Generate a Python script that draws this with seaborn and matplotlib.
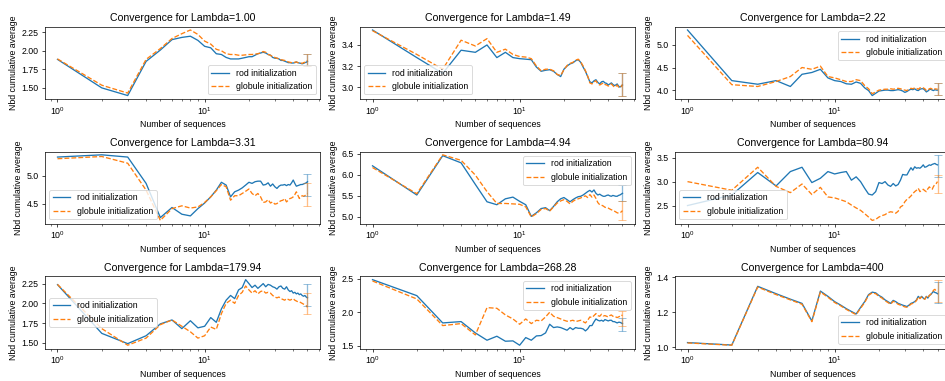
import numpy as np
import matplotlib
matplotlib.use("Agg")
import matplotlib.pyplot as plt
import seaborn as sns

plt.rcParams['font.family'] = ['Liberation Sans', 'DejaVu Sans']
plt.rcParams['mathtext.fontset'] = 'custom'
plt.rcParams['mathtext.rm'] = 'Liberation Sans'
plt.rcParams['mathtext.it'] = 'Liberation Sans:italic'

n_seq = list(range(1, 51))

lambdas = ["1.00", "1.49", "2.22", "3.31", "4.94", "80.94", "179.94", "268.28", "400"]

rod_1 = [1.884, 1.50, 1.397, 1.857, 2.01, 2.15, 2.18, 2.196, 2.14, 2.06, 2.04, 1.96, 1.95, 1.91, 1.89, 1.89, 1.89, 1.90, 1.91, 1.92,
         1.92, 1.94, 1.96, 1.97, 1.98, 1.97, 1.95, 1.94, 1.91, 1.90, 1.90, 1.89, 1.87, 1.87, 1.86, 1.85, 1.84, 1.84, 1.835, 1.835,
         1.84, 1.85, 1.84, 1.835, 1.83, 1.825, 1.83, 1.84, 1.845, 1.857]
glob_1 = [1.89, 1.536, 1.43, 1.884, 2.03, 2.165, 2.23, 2.28, 2.22, 2.13, 2.09, 2.02, 2.00, 1.96, 1.95, 1.95, 1.94, 1.94, 1.945, 1.95,
          1.95, 1.955, 1.96, 1.97, 1.99, 1.98, 1.95, 1.94, 1.92, 1.91, 1.90, 1.89, 1.88, 1.875, 1.87, 1.86, 1.85, 1.845, 1.84, 1.84,
          1.845, 1.85, 1.84, 1.835, 1.835, 1.83, 1.84, 1.845, 1.85, 1.87]

rod_2 = [3.542, 3.28, 3.13, 3.35, 3.33, 3.40, 3.28, 3.33, 3.28, 3.27, 3.265, 3.26, 3.19, 3.15, 3.16, 3.165, 3.15, 3.12, 3.10, 3.17,
         3.20, 3.22, 3.23, 3.25, 3.26, 3.235, 3.19, 3.15, 3.10, 3.05, 3.04, 3.06, 3.07, 3.045, 3.03, 3.05, 3.055, 3.04, 3.035, 3.02,
         3.03, 3.04, 3.025, 3.015, 3.02, 3.03, 3.01, 3.0, 3.01, 3.02]
glob_2 = [3.535, 3.31, 3.17, 3.445, 3.39, 3.46, 3.33, 3.36, 3.31, 3.29, 3.285, 3.27, 3.20, 3.155, 3.17, 3.17, 3.155, 3.12, 3.11, 3.165,
          3.205, 3.225, 3.235, 3.255, 3.265, 3.24, 3.20, 3.155, 3.105, 3.04, 3.03, 3.05, 3.06, 3.03, 3.02, 3.03, 3.04, 3.025, 3.02, 3.01,
          3.02, 3.03, 3.015, 3.0, 3.005, 3.02, 3.0, 2.995, 3.005, 3.025]

rod_3 = [5.33, 4.21, 4.13, 4.21, 4.08, 4.35, 4.39, 4.46, 4.27, 4.21, 4.19, 4.14, 4.13, 4.18, 4.15, 4.05, 3.99, 3.88, 3.93, 3.98,
         3.99, 4.0, 4.0, 3.99, 3.99, 4.0, 4.01, 4.0, 3.98, 3.95, 3.97, 4.0, 4.02, 4.01, 4.03, 4.0, 3.99, 4.02, 4.03, 4.03,
         4.0, 3.96, 3.98, 4.01, 4.02, 4.0, 3.99, 4.01, 4.0, 4.0]
glob_3 = [5.21, 4.12, 4.08, 4.19, 4.30, 4.50, 4.46, 4.53, 4.30, 4.27, 4.23, 4.19, 4.19, 4.23, 4.21, 4.10, 4.03, 3.92, 3.96, 4.00,
          4.01, 4.02, 4.02, 4.03, 4.02, 4.03, 4.04, 4.03, 4.01, 4.00, 3.99, 4.02, 4.04, 4.03, 4.05, 4.04, 4.02, 4.05, 4.06, 4.05,
          4.03, 3.99, 4.0, 4.03, 4.04, 4.02, 4.01, 4.03, 4.02, 4.03]

rod_4 = [5.33, 5.37, 5.33, 4.86, 4.25, 4.43, 4.31, 4.28, 4.41, 4.51, 4.62, 4.74, 4.88, 4.83, 4.62, 4.71, 4.74, 4.78, 4.83, 4.88,
         4.86, 4.89, 4.90, 4.90, 4.83, 4.84, 4.87, 4.81, 4.85, 4.80, 4.77, 4.81, 4.83, 4.83, 4.84, 4.82, 4.84, 4.83, 4.87, 4.92,
         4.86, 4.81, 4.82, 4.83, 4.84, 4.84, 4.85, 4.86, 4.87, 4.89]
glob_4 = [5.30, 5.34, 5.22, 4.74, 4.20, 4.41, 4.46, 4.42, 4.44, 4.52, 4.62, 4.73, 4.84, 4.80, 4.56, 4.64, 4.64, 4.68, 4.72, 4.76,
          4.68, 4.64, 4.68, 4.62, 4.52, 4.53, 4.57, 4.51, 4.53, 4.49, 4.50, 4.53, 4.55, 4.56, 4.59, 4.53, 4.56, 4.59, 4.60, 4.62,
          4.66, 4.71, 4.65, 4.59, 4.62, 4.64, 4.63, 4.64, 4.66, 4.68]

rod_5 = [6.21, 5.52, 6.45, 6.28, 5.77, 5.36, 5.29, 5.43, 5.47, 5.37, 5.29, 5.015, 5.10, 5.20, 5.22, 5.15, 5.25, 5.36, 5.43, 5.46,
         5.41, 5.36, 5.41, 5.45, 5.48, 5.49, 5.52, 5.56, 5.60, 5.63, 5.59, 5.64, 5.56, 5.52, 5.54, 5.51, 5.49, 5.49, 5.51, 5.52,
         5.50, 5.49, 5.51, 5.50, 5.49, 5.49, 5.51, 5.52, 5.54, 5.56]
glob_5 = [6.17, 5.55, 6.47, 6.34, 5.99, 5.60, 5.32, 5.32, 5.31, 5.30, 5.24, 5.00, 5.08, 5.18, 5.20, 5.14, 5.24, 5.33, 5.38, 5.41,
          5.37, 5.31, 5.37, 5.41, 5.43, 5.45, 5.48, 5.50, 5.46, 5.53, 5.47, 5.52, 5.44, 5.34, 5.29, 5.28, 5.26, 5.23, 5.22, 5.21,
          5.19, 5.17, 5.16, 5.14, 5.12, 5.10, 5.09, 5.10, 5.12, 5.15]

rod_6 = [2.50, 2.72, 3.19, 2.91, 3.21, 3.30, 2.98, 3.07, 3.21, 3.16, 3.19, 3.21, 3.03, 3.10, 3.00, 2.86, 2.74, 2.72, 2.79, 2.98,
         2.96, 3.00, 2.93, 2.90, 2.96, 2.91, 2.94, 3.03, 3.15, 3.14, 3.14, 3.22, 3.29, 3.24, 3.31, 3.28, 3.29, 3.28, 3.31, 3.35,
         3.30, 3.31, 3.33, 3.35, 3.34, 3.36, 3.37, 3.38, 3.36, 3.35]
glob_6 = [3.00, 2.82, 3.30, 2.90, 2.77, 2.95, 2.73, 2.88, 2.68, 2.66, 2.62, 2.58, 2.51, 2.45, 2.40, 2.33, 2.26, 2.19, 2.21, 2.26,
          2.29, 2.31, 2.35, 2.37, 2.36, 2.34, 2.38, 2.47, 2.50, 2.58, 2.63, 2.66, 2.70, 2.75, 2.79, 2.82, 2.86, 2.79, 2.82, 2.84,
          2.81, 2.79, 2.85, 2.89, 2.86, 2.84, 2.90, 2.94, 2.96, 3.00]

rod_7 = [2.237, 1.62, 1.49, 1.59, 1.74, 1.79, 1.68, 1.78, 1.69, 1.71, 1.82, 1.76, 1.93, 2.04, 2.10, 2.06, 2.17, 2.20, 2.30, 2.25,
         2.20, 2.23, 2.19, 2.22, 2.25, 2.21, 2.24, 2.23, 2.21, 2.20, 2.18, 2.21, 2.22, 2.19, 2.18, 2.21, 2.17, 2.15, 2.16, 2.13,
         2.14, 2.12, 2.13, 2.11, 2.12, 2.10, 2.09, 2.10, 2.08, 2.07]
glob_7 = [2.24, 1.68, 1.47, 1.56, 1.73, 1.79, 1.71, 1.64, 1.56, 1.59, 1.70, 1.67, 1.87, 2.00, 2.04, 2.00, 2.10, 2.14, 2.22, 2.17,
          2.13, 2.16, 2.12, 2.15, 2.16, 2.13, 2.14, 2.13, 2.10, 2.08, 2.07, 2.08, 2.06, 2.05, 2.04, 2.06, 2.05, 2.04, 2.05, 2.06,
          2.04, 2.03, 2.02, 2.02, 2.01, 2.00, 1.99, 1.98, 1.97, 1.95]

rod_8 = [2.49, 2.25, 1.84, 1.86, 1.69, 1.58, 1.64, 1.565, 1.57, 1.505, 1.62, 1.58, 1.645, 1.65, 1.69, 1.82, 1.77, 1.78, 1.77, 1.75,
         1.73, 1.77, 1.74, 1.77, 1.76, 1.76, 1.75, 1.72, 1.75, 1.80, 1.80, 1.855, 1.90, 1.88, 1.87, 1.88, 1.865, 1.89, 1.88, 1.87,
         1.88, 1.88, 1.86, 1.86, 1.85, 1.84, 1.85, 1.85, 1.84, 1.83]
glob_8 = [2.47, 2.20, 1.80, 1.83, 1.66, 2.07, 2.06, 1.96, 1.90, 1.82, 1.90, 1.83, 1.88, 1.87, 1.93, 2.00, 1.94, 1.92, 1.90, 1.88,
          1.865, 1.87, 1.88, 1.86, 1.87, 1.88, 1.86, 1.84, 1.88, 1.93, 1.92, 1.95, 1.98, 1.95, 1.94, 1.97, 1.945, 1.95, 1.94, 1.93,
          1.95, 1.96, 1.94, 1.94, 1.93, 1.92, 1.93, 1.94, 1.96, 1.95]

rod_9 = [1.027, 1.013, 1.347, 1.305, 1.274, 1.25, 1.15, 1.32, 1.29, 1.26, 1.24, 1.22, 1.204, 1.19, 1.227, 1.26, 1.30, 1.314, 1.31, 1.295,
         1.285, 1.27, 1.26, 1.25, 1.267, 1.26, 1.25, 1.245, 1.24, 1.236, 1.232, 1.24, 1.25, 1.254, 1.26, 1.27, 1.29, 1.28, 1.29, 1.28,
         1.275, 1.29, 1.28, 1.295, 1.30, 1.31, 1.318, 1.312, 1.31, 1.305]
glob_9 = [1.025, 1.012, 1.343, 1.30, 1.27, 1.245, 1.146, 1.315, 1.285, 1.255, 1.236, 1.216, 1.20, 1.186, 1.222, 1.255, 1.296, 1.31, 1.305, 1.29,
          1.28, 1.265, 1.255, 1.245, 1.262, 1.255, 1.245, 1.24, 1.235, 1.23, 1.228, 1.236, 1.246, 1.25, 1.256, 1.266, 1.287, 1.277, 1.287, 1.278,
          1.273, 1.288, 1.282, 1.295, 1.302, 1.312, 1.325, 1.33, 1.32, 1.315]

rod_series = [rod_1, rod_2, rod_3, rod_4, rod_5, rod_6, rod_7, rod_8, rod_9]
glob_series = [glob_1, glob_2, glob_3, glob_4, glob_5, glob_6, glob_7, glob_8, glob_9]

# final mean and std (error bars at the last point)
rod_err_mean = [1.87, 3.025, 4.03, 4.83, 5.56, 3.33, 2.11, 1.82, 1.312]
rod_err_std = [0.08, 0.105, 0.13, 0.19, 0.19, 0.23, 0.14, 0.10, 0.058]
glob_err_mean = [1.875, 3.025, 4.03, 4.655, 5.15, 2.95, 2.00, 1.905, 1.322]
glob_err_std = [0.08, 0.105, 0.13, 0.205, 0.23, 0.195, 0.135, 0.115, 0.063]

legend_locs = ['lower right', 'lower left', 'upper right', 'lower left', 'upper right',
               'lower left', 'center left', 'upper right', 'lower right']

DPI = 63
fig, axes = plt.subplots(3, 3, figsize=(945 / DPI, 381 / DPI), dpi=DPI)
fig.subplots_adjust(left=45 / 945, right=950 / 945, top=1 - 26.7 / 381, bottom=1 - 348.5 / 381,
                    wspace=0.1455, hspace=0.731)

for i, ax in enumerate(axes.flat):
    sns.lineplot(x=n_seq, y=rod_series[i], ax=ax, color='C0', label='rod initialization')
    sns.lineplot(x=n_seq, y=glob_series[i], ax=ax, color='C1', linestyle='--', label='globule initialization')
    ax.errorbar(n_seq[-1], rod_err_mean[i], yerr=rod_err_std[i], color='C0', alpha=0.5, capsize=5)
    ax.errorbar(n_seq[-1], glob_err_mean[i], yerr=glob_err_std[i], color='C1', alpha=0.5, capsize=5)
    ax.set_xscale('log')
    ax.set_title(f"Convergence for Lambda={lambdas[i]}")
    ax.set_xlabel("Number of sequences")
    ax.set_ylabel("Nbd cumulative average")
    ax.legend(loc=legend_locs[i])

fig.savefig("out.png", dpi=DPI)
